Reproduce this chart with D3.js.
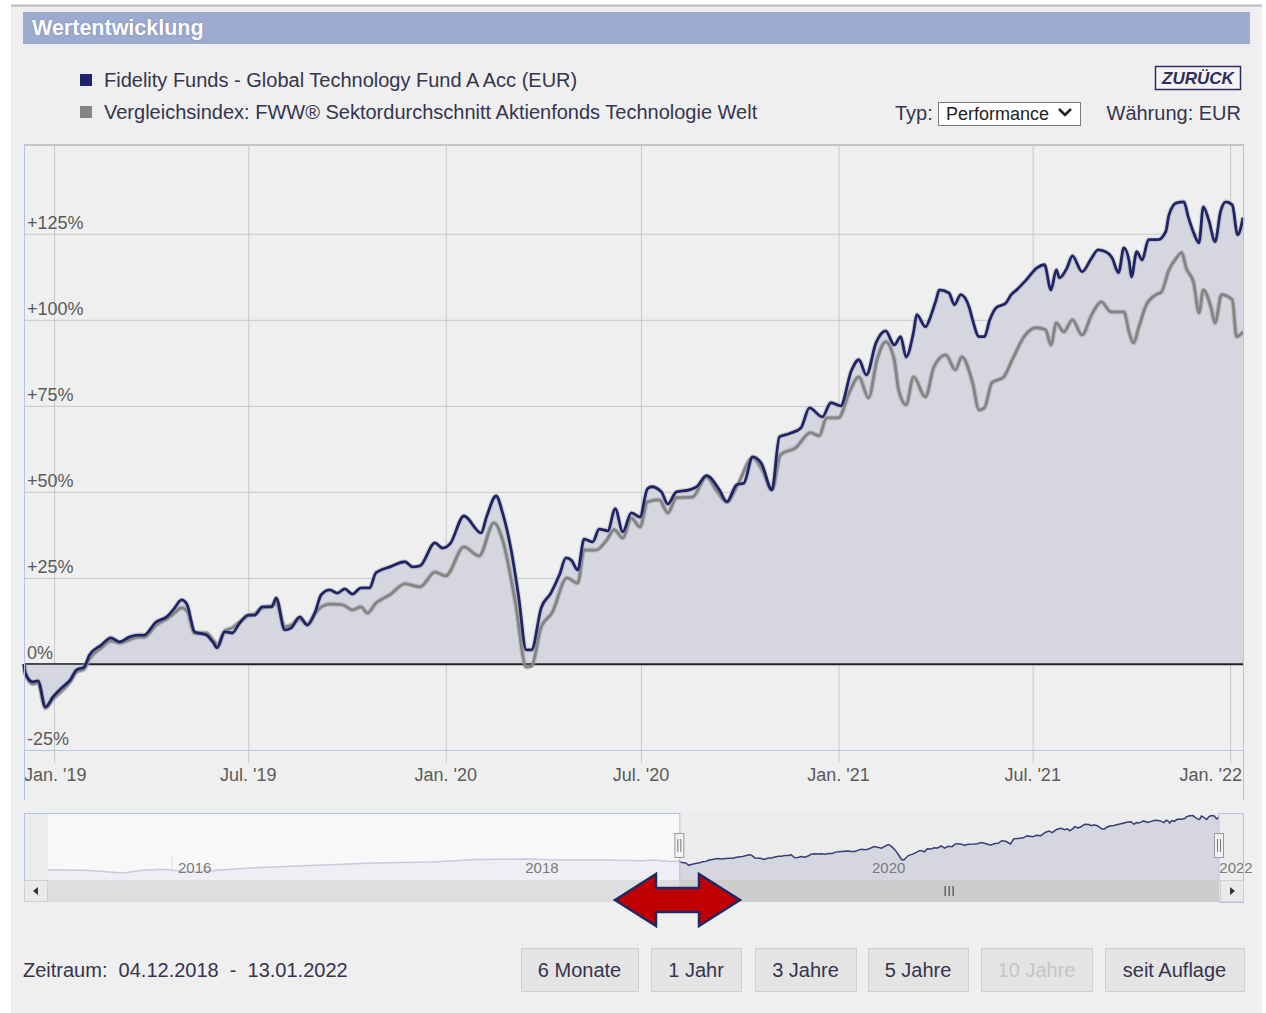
<!DOCTYPE html>
<html>
<head>
<meta charset="utf-8">
<script src="https://cdn.jsdelivr.net/npm/d3@7"></script>
<style>
  body { margin: 0; background: #ffffff; }
  svg { display: block; font-family: "Liberation Sans", Arial, sans-serif; }
</style>
</head>
<body>
<svg id="main_svg" width="1266" height="1013"></svg>
<script>
// fund (navy) and comparison index (gray), performance in % since 04.12.2018
const fundSeries = [
  ["2018-12-04",0],["2018-12-05",-2.6],["2018-12-12",-5.2],["2018-12-17",-4.9],["2018-12-24",-12.5],["2018-12-31",-9.6],
  ["2019-01-09",-6.7],["2019-01-16",-4.7],["2019-01-22",-1.7],["2019-01-29",-0.9],["2019-02-03",2.6],["2019-02-14",5.5],
  ["2019-02-23",7.6],["2019-03-03",6.4],["2019-03-12",7.8],["2019-03-20",8.4],["2019-03-26",8.4],["2019-04-06",12.2],
  ["2019-04-16",13.7],["2019-04-22",15.7],["2019-04-30",18.6],["2019-05-05",17.2],["2019-05-12",9.3],["2019-05-23",8.4],
  ["2019-05-29",6.4],["2019-06-02",4.7],["2019-06-09",9.3],["2019-06-16",9.0],["2019-06-23",11.9],["2019-07-01",14.2],
  ["2019-07-07",14.2],["2019-07-14",16.6],["2019-07-23",16.6],["2019-07-27",19.2],["2019-08-04",9.9],["2019-08-10",10.5],
  ["2019-08-18",13.7],["2019-08-25",11.3],["2019-09-01",14.8],["2019-09-07",20.1],["2019-09-15",21.5],["2019-09-22",20.6],
  ["2019-09-29",21.8],["2019-10-06",20.3],["2019-10-14",22.1],["2019-10-22",22.1],["2019-10-28",26.5],["2019-11-10",28.2],
  ["2019-11-24",29.7],["2019-12-01",28.2],["2019-12-08",28.5],["2019-12-22",35.2],["2019-12-29",33.7],["2020-01-05",34.9],
  ["2020-01-18",43.0],["2020-02-03",38.1],["2020-02-08",42.7],["2020-02-17",48.8],["2020-02-23",43.9],["2020-03-02",33.1],
  ["2020-03-09",19.5],["2020-03-16",4.1],["2020-03-21",4.1],["2020-03-30",16.3],["2020-04-08",20.6],["2020-04-16",25.9],
  ["2020-04-22",30.8],["2020-04-27",30.2],["2020-05-03",27.3],["2020-05-09",36.3],["2020-05-17",35.5],["2020-05-23",39.2],
  ["2020-05-31",38.7],["2020-06-07",45.1],["2020-06-14",38.4],["2020-06-22",43.9],["2020-06-30",42.7],["2020-07-07",50.9],
  ["2020-07-11",51.5],["2020-07-20",50.0],["2020-07-26",46.5],["2020-08-03",50.0],["2020-08-15",50.6],["2020-08-22",51.5],
  ["2020-08-31",54.7],["2020-09-12",50.6],["2020-09-19",47.1],["2020-09-28",52.0],["2020-10-05",52.6],["2020-10-13",60.2],
  ["2020-10-21",58.4],["2020-10-31",50.6],["2020-11-07",66.0],["2020-11-16",66.9],["2020-11-27",68.6],["2020-12-05",74.4],
  ["2020-12-17",71.8],["2020-12-25",75.9],["2021-01-03",75.0],["2021-01-13",85.2],["2021-01-20",88.4],["2021-01-27",84.0],
  ["2021-02-05",93.3],["2021-02-14",96.8],["2021-02-22",92.7],["2021-02-28",95.1],["2021-03-05",89.2],["2021-03-12",96.5],
  ["2021-03-15",101.5],["2021-03-23",98.0],["2021-03-29",102.0],["2021-04-02",105.8],["2021-04-05",108.7],["2021-04-14",107.8],
  ["2021-04-19",104.4],["2021-04-25",107.3],["2021-05-03",103.5],["2021-05-06",100.0],["2021-05-12",95.1],["2021-05-17",95.1],
  ["2021-05-22",100.0],["2021-05-28",103.5],["2021-06-06",104.9],["2021-06-11",107.3],["2021-06-16",108.7],["2021-06-25",111.6],
  ["2021-07-05",115.1],["2021-07-12",116.0],["2021-07-18",108.7],["2021-07-23",114.5],["2021-07-26",112.2],["2021-08-02",115.1],
  ["2021-08-07",118.6],["2021-08-16",114.0],["2021-08-25",118.0],["2021-08-31",120.3],["2021-09-07",119.8],["2021-09-13",118.0],
  ["2021-09-19",113.7],["2021-09-24",120.9],["2021-09-29",116.9],["2021-10-01",112.5],["2021-10-06",119.8],["2021-10-11",117.4],
  ["2021-10-17",123.3],["2021-10-26",123.3],["2021-11-02",125.6],["2021-11-05",130.5],["2021-11-12",134.0],["2021-11-19",134.3],
  ["2021-11-23",129.9],["2021-11-28",125.3],["2021-12-03",122.4],["2021-12-07",132.8],["2021-12-12",129.1],["2021-12-18",122.7],
  ["2021-12-23",131.4],["2021-12-28",134.3],["2022-01-03",133.4],["2022-01-08",124.7],["2022-01-13",129.7]
];

const indexSeries = [
  ["2018-12-04",0],["2018-12-06",-3.2],["2018-12-12",-5.8],["2018-12-17",-5.5],["2018-12-24",-12.8],["2018-12-31",-10.2],
  ["2019-01-09",-7.6],["2019-01-16",-5.2],["2019-01-22",-2.3],["2019-01-29",-1.5],["2019-02-03",1.5],["2019-02-14",4.7],
  ["2019-02-23",6.7],["2019-03-03",6.1],["2019-03-12",7.0],["2019-03-20",7.8],["2019-03-26",7.8],["2019-04-06",11.3],
  ["2019-04-16",13.1],["2019-04-22",14.5],["2019-04-30",16.3],["2019-05-05",15.4],["2019-05-12",9.0],["2019-05-23",9.0],
  ["2019-05-29",7.0],["2019-06-02",5.5],["2019-06-09",9.6],["2019-06-16",10.5],["2019-06-23",12.2],["2019-07-01",14.0],
  ["2019-07-07",14.5],["2019-07-14",16.3],["2019-07-23",16.9],["2019-07-27",18.0],["2019-08-04",10.8],["2019-08-10",11.3],
  ["2019-08-18",13.1],["2019-08-25",11.6],["2019-09-01",14.5],["2019-09-07",16.6],["2019-09-15",17.4],["2019-09-27",17.2],
  ["2019-10-06",15.7],["2019-10-14",16.6],["2019-10-20",14.8],["2019-10-28",17.7],["2019-11-10",20.1],["2019-11-24",23.3],
  ["2019-12-08",22.4],["2019-12-22",26.7],["2020-01-01",25.6],["2020-01-18",34.0],["2020-02-01",31.4],["2020-02-15",41.0],
  ["2020-02-23",36.0],["2020-03-06",17.7],["2020-03-16",-0.9],["2020-03-21",-0.6],["2020-03-30",10.8],["2020-04-09",14.8],
  ["2020-04-23",25.0],["2020-05-03",23.5],["2020-05-09",33.1],["2020-05-20",33.1],["2020-05-30",36.0],["2020-06-06",39.0],
  ["2020-06-14",36.6],["2020-06-22",42.4],["2020-06-30",39.8],["2020-07-07",47.1],["2020-07-18",47.7],["2020-07-26",43.9],
  ["2020-08-03",48.3],["2020-08-18",48.5],["2020-08-31",54.4],["2020-09-09",50.6],["2020-09-19",47.1],["2020-09-29",52.0],
  ["2020-10-13",59.9],["2020-10-22",56.4],["2020-10-31",50.6],["2020-11-08",60.8],["2020-11-22",62.8],["2020-12-06",67.2],
  ["2020-12-14",66.3],["2020-12-21",71.5],["2021-01-01",71.5],["2021-01-11",78.8],["2021-01-20",83.4],["2021-01-29",77.3],
  ["2021-02-06",88.4],["2021-02-14",93.6],["2021-02-22",88.4],["2021-02-26",79.7],["2021-03-05",75.3],["2021-03-12",83.4],
  ["2021-03-23",77.6],["2021-03-31",86.3],["2021-04-11",89.8],["2021-04-20",85.5],["2021-04-26",89.2],["2021-05-06",81.7],
  ["2021-05-12",73.8],["2021-05-17",74.4],["2021-05-24",81.7],["2021-06-04",83.4],["2021-06-12",88.4],["2021-06-23",95.1],
  ["2021-07-04",97.7],["2021-07-13",97.1],["2021-07-18",92.7],["2021-07-23",99.1],["2021-07-30",96.5],["2021-08-07",100.0],
  ["2021-08-16",95.6],["2021-08-25",101.5],["2021-09-03",105.2],["2021-09-12",102.3],["2021-09-24",102.3],["2021-09-29",96.2],
  ["2021-10-03",93.3],["2021-10-08",98.0],["2021-10-15",104.4],["2021-10-24",107.3],["2021-10-29",108.1],["2021-11-05",114.5],
  ["2021-11-12",118.0],["2021-11-17",119.5],["2021-11-21",115.1],["2021-11-28",110.8],["2021-12-03",102.0],["2021-12-07",108.7],
  ["2021-12-14",103.8],["2021-12-18",99.1],["2021-12-24",107.3],["2022-01-03",105.8],["2022-01-07",95.1],["2022-01-13",96.5]
];

// navigator history before the selected window (fund, same % base)
const navHistory = [
  ["2015-04-15",-26],["2015-07-01",-27],["2015-09-20",-35],["2015-11-01",-27],["2015-12-15",-24],["2016-02-10",-33],
  ["2016-06-01",-21],["2016-11-01",-12],["2017-03-01",-6],["2017-07-01",-3],["2017-10-01",5],["2018-01-15",6],
  ["2018-04-01",3],["2018-07-01",3],["2018-09-15",1],["2018-10-10",3],["2018-11-15",-1]
];

const yTicks = [-25, 0, 25, 50, 75, 100, 125];
const yTickLabels = ["-25%", "0%", "+25%", "+50%", "+75%", "+100%", "+125%"];
const xTicks = ["2019-01-01", "2019-07-01", "2020-01-01", "2020-07-01", "2021-01-01", "2021-07-01", "2022-01-01"];
const xTickLabels = ["Jan. '19", "Jul. '19", "Jan. '20", "Jul. '20", "Jan. '21", "Jul. '21", "Jan. '22"];
const navTicks = ["2016-01-01", "2018-01-01", "2020-01-01", "2022-01-01"];
const navTickLabels = ["2016", "2018", "2020", "2022"];
const legendNames = [
  "Fidelity Funds - Global Technology Fund A Acc (EUR)",
  "Vergleichsindex: FWW\u00ae Sektordurchschnitt Aktienfonds Technologie Welt"
];
const buttonLabels = ["6 Monate", "1 Jahr", "3 Jahre", "5 Jahre", "10 Jahre", "seit Auflage"];

const parse = d3.timeParse("%Y-%m-%d");
const fund = fundSeries.map(d => ({ date: parse(d[0]), v: d[1] }));
const index = indexSeries.map(d => ({ date: parse(d[0]), v: d[1] }));
const navData = navHistory.map(d => ({ date: parse(d[0]), v: d[1] })).concat(fund);

const navy = "#1f2468";
const grey = "#848484";
const fillCol = "#d5d6e0";
const textCol = "#34344f";

const svg = d3.select("#main_svg");

// panel
svg.append("rect").attr("x", 11).attr("y", 5).attr("width", 1251).attr("height", 1008).attr("fill", "#efefef");
svg.append("line").attr("x1", 11).attr("x2", 1262).attr("y1", 5.5).attr("y2", 5.5)
  .attr("stroke", "#bcbcbc").attr("stroke-width", 2);

// header bar
svg.append("rect").attr("x", 23).attr("y", 12).attr("width", 1227).attr("height", 32).attr("fill", "#9eabd0");
svg.append("text").attr("x", 32).attr("y", 35).text("Wertentwicklung")
  .attr("fill", "#ffffff").attr("font-weight", "bold").style("font-size", "21.5px")
  .style("text-shadow", "0 0 2px #7080a8");

// legend
const legCols = [navy, grey];
legendNames.forEach((name, i) => {
  svg.append("rect").attr("x", 80).attr("y", 74 + i * 32).attr("width", 12).attr("height", 12).attr("fill", legCols[i]);
  svg.append("text").attr("x", 104).attr("y", 87 + i * 32).text(name)
    .attr("fill", textCol).style("font-size", "20px");
});

// top right controls
svg.append("rect").attr("x", 1155.5).attr("y", 66.5).attr("width", 85).attr("height", 23)
  .attr("fill", "#f3f3f3").attr("stroke", "#2e2e5e").attr("stroke-width", 1.5);
svg.append("text").attr("x", 1198).attr("y", 84).attr("text-anchor", "middle").text("ZURÜCK")
  .attr("fill", "#2e2e5e").attr("font-weight", "bold").attr("font-style", "italic").style("font-size", "17px");
svg.append("text").attr("x", 895).attr("y", 120).text("Typ:").attr("fill", textCol).style("font-size", "20px");
svg.append("rect").attr("x", 938.5).attr("y", 102.5).attr("width", 142).attr("height", 23)
  .attr("fill", "#ffffff").attr("stroke", "#7a7a7a");
svg.append("text").attr("x", 946).attr("y", 120).text("Performance").attr("fill", "#222").style("font-size", "18px");
svg.append("path").attr("d", "M1059,109 L1065,115 L1071,109").attr("fill", "none")
  .attr("stroke", "#222").attr("stroke-width", 2.6);
svg.append("text").attr("x", 1241).attr("y", 120).attr("text-anchor", "end").text("Währung: EUR")
  .attr("fill", textCol).style("font-size", "20px");

// main chart
const pLeft = 24, pRight = 1244, pTop = 145, pBottom = 750;
const x = d3.scaleTime().domain([parse("2018-12-04"), parse("2022-01-13")]).range([pLeft, pRight - 1]);
const y = d3.scaleLinear().domain([-25, 150.8]).range([pBottom, pTop]);

// vertical grid
const xAxis = g => g.attr("transform", `translate(0,${pTop})`)
  .call(d3.axisBottom(x).tickValues(xTicks.map(parse)).tickSize(pBottom - pTop + 13).tickFormat(""));
svg.append("g").call(xAxis)
  .call(g => g.select(".domain").remove())
  .call(g => g.selectAll(".tick line").attr("stroke", "#c8c8c8"));

// horizontal grid
const yAxis = g => g.attr("transform", `translate(${pLeft},0)`)
  .call(d3.axisLeft(y).tickValues(yTicks).tickSize(-(pRight - pLeft)).tickFormat(""));
svg.append("g").call(yAxis)
  .call(g => g.select(".domain").remove())
  .call(g => g.selectAll(".tick line")
    .attr("stroke", d => d === 0 ? "#222" : d === -25 ? "#b7c5e6" : "#c8c8c8")
    .attr("stroke-width", d => d === 0 ? 1.5 : 1));

// area + lines
const area = d3.area().curve(d3.curveMonotoneX).x(d => x(d.date)).y0(y(0)).y1(d => y(d.v));
const line = d3.line().curve(d3.curveMonotoneX).x(d => x(d.date)).y(d => y(d.v));

svg.append("path").datum(fund).attr("d", area).attr("fill", fillCol);
// bring zero line back over the fill
svg.append("line").attr("x1", pLeft).attr("x2", pRight).attr("y1", y(0)).attr("y2", y(0))
  .attr("stroke", "#222").attr("stroke-width", 1.5);

svg.append("path").datum(index).attr("d", line).attr("fill", "none")
  .attr("stroke", "#9a9a9a").attr("stroke-opacity", 0.45).attr("stroke-width", 5);
svg.append("path").datum(index).attr("d", line).attr("fill", "none")
  .attr("stroke", grey).attr("stroke-width", 2.8);
svg.append("path").datum(fund).attr("d", line).attr("fill", "none")
  .attr("stroke", "#9a9a9a").attr("stroke-opacity", 0.35).attr("stroke-width", 5);
svg.append("path").datum(fund).attr("d", line).attr("fill", "none")
  .attr("stroke", navy).attr("stroke-width", 2.8);

// y labels inside plot
yTicks.forEach((t, i) => {
  svg.append("text").attr("x", pLeft + 3).attr("y", y(t) - 5).text(yTickLabels[i])
    .attr("fill", "#5a5a5a").style("font-size", "18px");
});

// x labels
xTicks.forEach((t, i) => {
  const tx = x(parse(t));
  const lab = svg.append("text").attr("y", 781).text(xTickLabels[i])
    .attr("fill", "#5a5a5a").style("font-size", "18px");
  const w = lab.node().getComputedTextLength();
  let lx = tx - w / 2;
  lx = Math.max(pLeft, Math.min(pRight - 2 - w, lx));
  lab.attr("x", lx);
});

// frame
svg.append("line").attr("x1", pLeft).attr("x2", pRight).attr("y1", pTop).attr("y2", pTop)
  .attr("stroke", "#c4c4c4").attr("stroke-width", 2);
svg.append("line").attr("x1", pLeft + 0.5).attr("x2", pLeft + 0.5).attr("y1", pTop).attr("y2", 800)
  .attr("stroke", "#b3c3e6");
svg.append("line").attr("x1", pRight - 0.5).attr("x2", pRight - 0.5).attr("y1", pTop).attr("y2", 800)
  .attr("stroke", "#b3c3e6");

// navigator
const navTop = 813, navBottom = 880, sbBottom = 902;
const nx = d3.scaleTime().domain([parse("2015-04-15"), parse("2022-01-13")]).range([48, 1219]);
const ny = d3.scaleLinear().domain([-47, 142]).range([877, navTop]);
const selL = nx(parse("2018-12-04")), selR = nx(parse("2022-01-13"));

svg.append("rect").attr("x", pLeft).attr("y", navTop).attr("width", pRight - pLeft).attr("height", navBottom - navTop)
  .attr("fill", "#ececec");
svg.append("rect").attr("x", 48).attr("y", navTop).attr("width", selL - 48).attr("height", navBottom - navTop)
  .attr("fill", "#f8f8f8");

const navLine = d3.line().x(d => nx(d.date)).y(d => ny(d.v));
const navArea = d3.area().x(d => nx(d.date)).y0(navBottom).y1(d => ny(d.v));

svg.append("clipPath").attr("id", "selClip").append("rect")
  .attr("x", selL).attr("y", navTop).attr("width", selR - selL).attr("height", navBottom - navTop);
svg.append("clipPath").attr("id", "unselClip").append("rect")
  .attr("x", 48).attr("y", navTop).attr("width", selL - 48).attr("height", navBottom - navTop);

svg.append("path").datum(navData).attr("d", navArea).attr("fill", "#eeeef4").attr("clip-path", "url(#unselClip)");
svg.append("path").datum(navData).attr("d", navLine).attr("fill", "none")
  .attr("stroke", "#c9c9dc").attr("stroke-width", 1.5).attr("clip-path", "url(#unselClip)");
svg.append("path").datum(navData).attr("d", navArea).attr("fill", fillCol).attr("clip-path", "url(#selClip)");
svg.append("path").datum(navData).attr("d", navLine).attr("fill", "none")
  .attr("stroke", "#3a3d78").attr("stroke-width", 1.5).attr("clip-path", "url(#selClip)");

// navigator years
navTicks.forEach((t, i) => {
  const tx = nx(parse(t));
  if (i === 0) {
    svg.append("line").attr("x1", tx).attr("x2", tx).attr("y1", 857).attr("y2", 873).attr("stroke", "#dcdcdc");
  }
  svg.append("text").attr("x", tx + 6).attr("y", 873).text(navTickLabels[i])
    .attr("fill", "#7a7a7a").style("font-size", "15px");
});

// navigator frame
svg.append("rect").attr("x", pLeft + 0.5).attr("y", navTop + 0.5).attr("width", selL - pLeft).attr("height", navBottom - navTop)
  .attr("fill", "none").attr("stroke", "#b3c3e6");
svg.append("rect").attr("x", selR).attr("y", navTop + 0.5).attr("width", pRight - selR - 0.5).attr("height", sbBottom - navTop)
  .attr("fill", "none").attr("stroke", "#b3c3e6");

// scrollbar
svg.append("rect").attr("x", pLeft).attr("y", navBottom).attr("width", pRight - pLeft).attr("height", sbBottom - navBottom)
  .attr("fill", "#dedede");
svg.append("rect").attr("x", selL).attr("y", navBottom).attr("width", selR - selL).attr("height", sbBottom - navBottom)
  .attr("fill", "#cdcdcd");
svg.append("rect").attr("x", pLeft + 0.5).attr("y", navBottom + 0.5).attr("width", 23).attr("height", 21)
  .attr("fill", "#eaeaea").attr("stroke", "#d0d0d0");
svg.append("rect").attr("x", 1220.5).attr("y", navBottom + 0.5).attr("width", 23).attr("height", 21)
  .attr("fill", "#eaeaea").attr("stroke", "#d0d0d0");
svg.append("path").attr("d", "M38,887 L33,891 L38,895 Z").attr("fill", "#333");
svg.append("path").attr("d", "M1230,887 L1235,891 L1230,895 Z").attr("fill", "#333");
[-4, 0, 4].forEach(o => {
  const cx = (selL + selR) / 2 + o;
  svg.append("line").attr("x1", cx).attr("x2", cx).attr("y1", 886).attr("y2", 896)
    .attr("stroke", "#555").attr("stroke-width", 1.3);
});

// handles
[selL, selR].forEach(hx => {
  svg.append("rect").attr("x", hx - 4.5).attr("y", 833.5).attr("width", 9).attr("height", 24)
    .attr("fill", "#f2f2f2").attr("stroke", "#9a9a9a");
  [-1.5, 1.5].forEach(o => {
    svg.append("line").attr("x1", hx + o).attr("x2", hx + o).attr("y1", 839).attr("y2", 852)
      .attr("stroke", "#777");
  });
});

// red double arrow annotation
svg.append("path")
  .attr("d", "M615,900 L656,874 L656,888 L699,888 L699,874 L740,900 L699,926 L699,912 L656,912 L656,926 Z")
  .attr("fill", "#c00000").attr("stroke", "#1c2a66").attr("stroke-width", 2.5).attr("stroke-linejoin", "miter");

// footer
svg.append("text").attr("x", 23).attr("y", 977).text("Zeitraum:  04.12.2018  -  13.01.2022")
  .attr("fill", textCol).style("font-size", "20px").style("white-space", "pre");

const btnX = [521, 651, 755, 868, 981, 1105];
const btnW = [117, 90, 101, 100, 111, 139];
buttonLabels.forEach((b, i) => {
  svg.append("rect").attr("x", btnX[i] + 0.5).attr("y", 948.5).attr("width", btnW[i]).attr("height", 43)
    .attr("fill", "#e4e4e4").attr("stroke", "#cfcfcf");
  svg.append("text").attr("x", btnX[i] + btnW[i] / 2).attr("y", 977).attr("text-anchor", "middle").text(b)
    .attr("fill", i === 4 ? "#c6c6c6" : textCol).style("font-size", "20px");
});
</script>
</body>
</html>
